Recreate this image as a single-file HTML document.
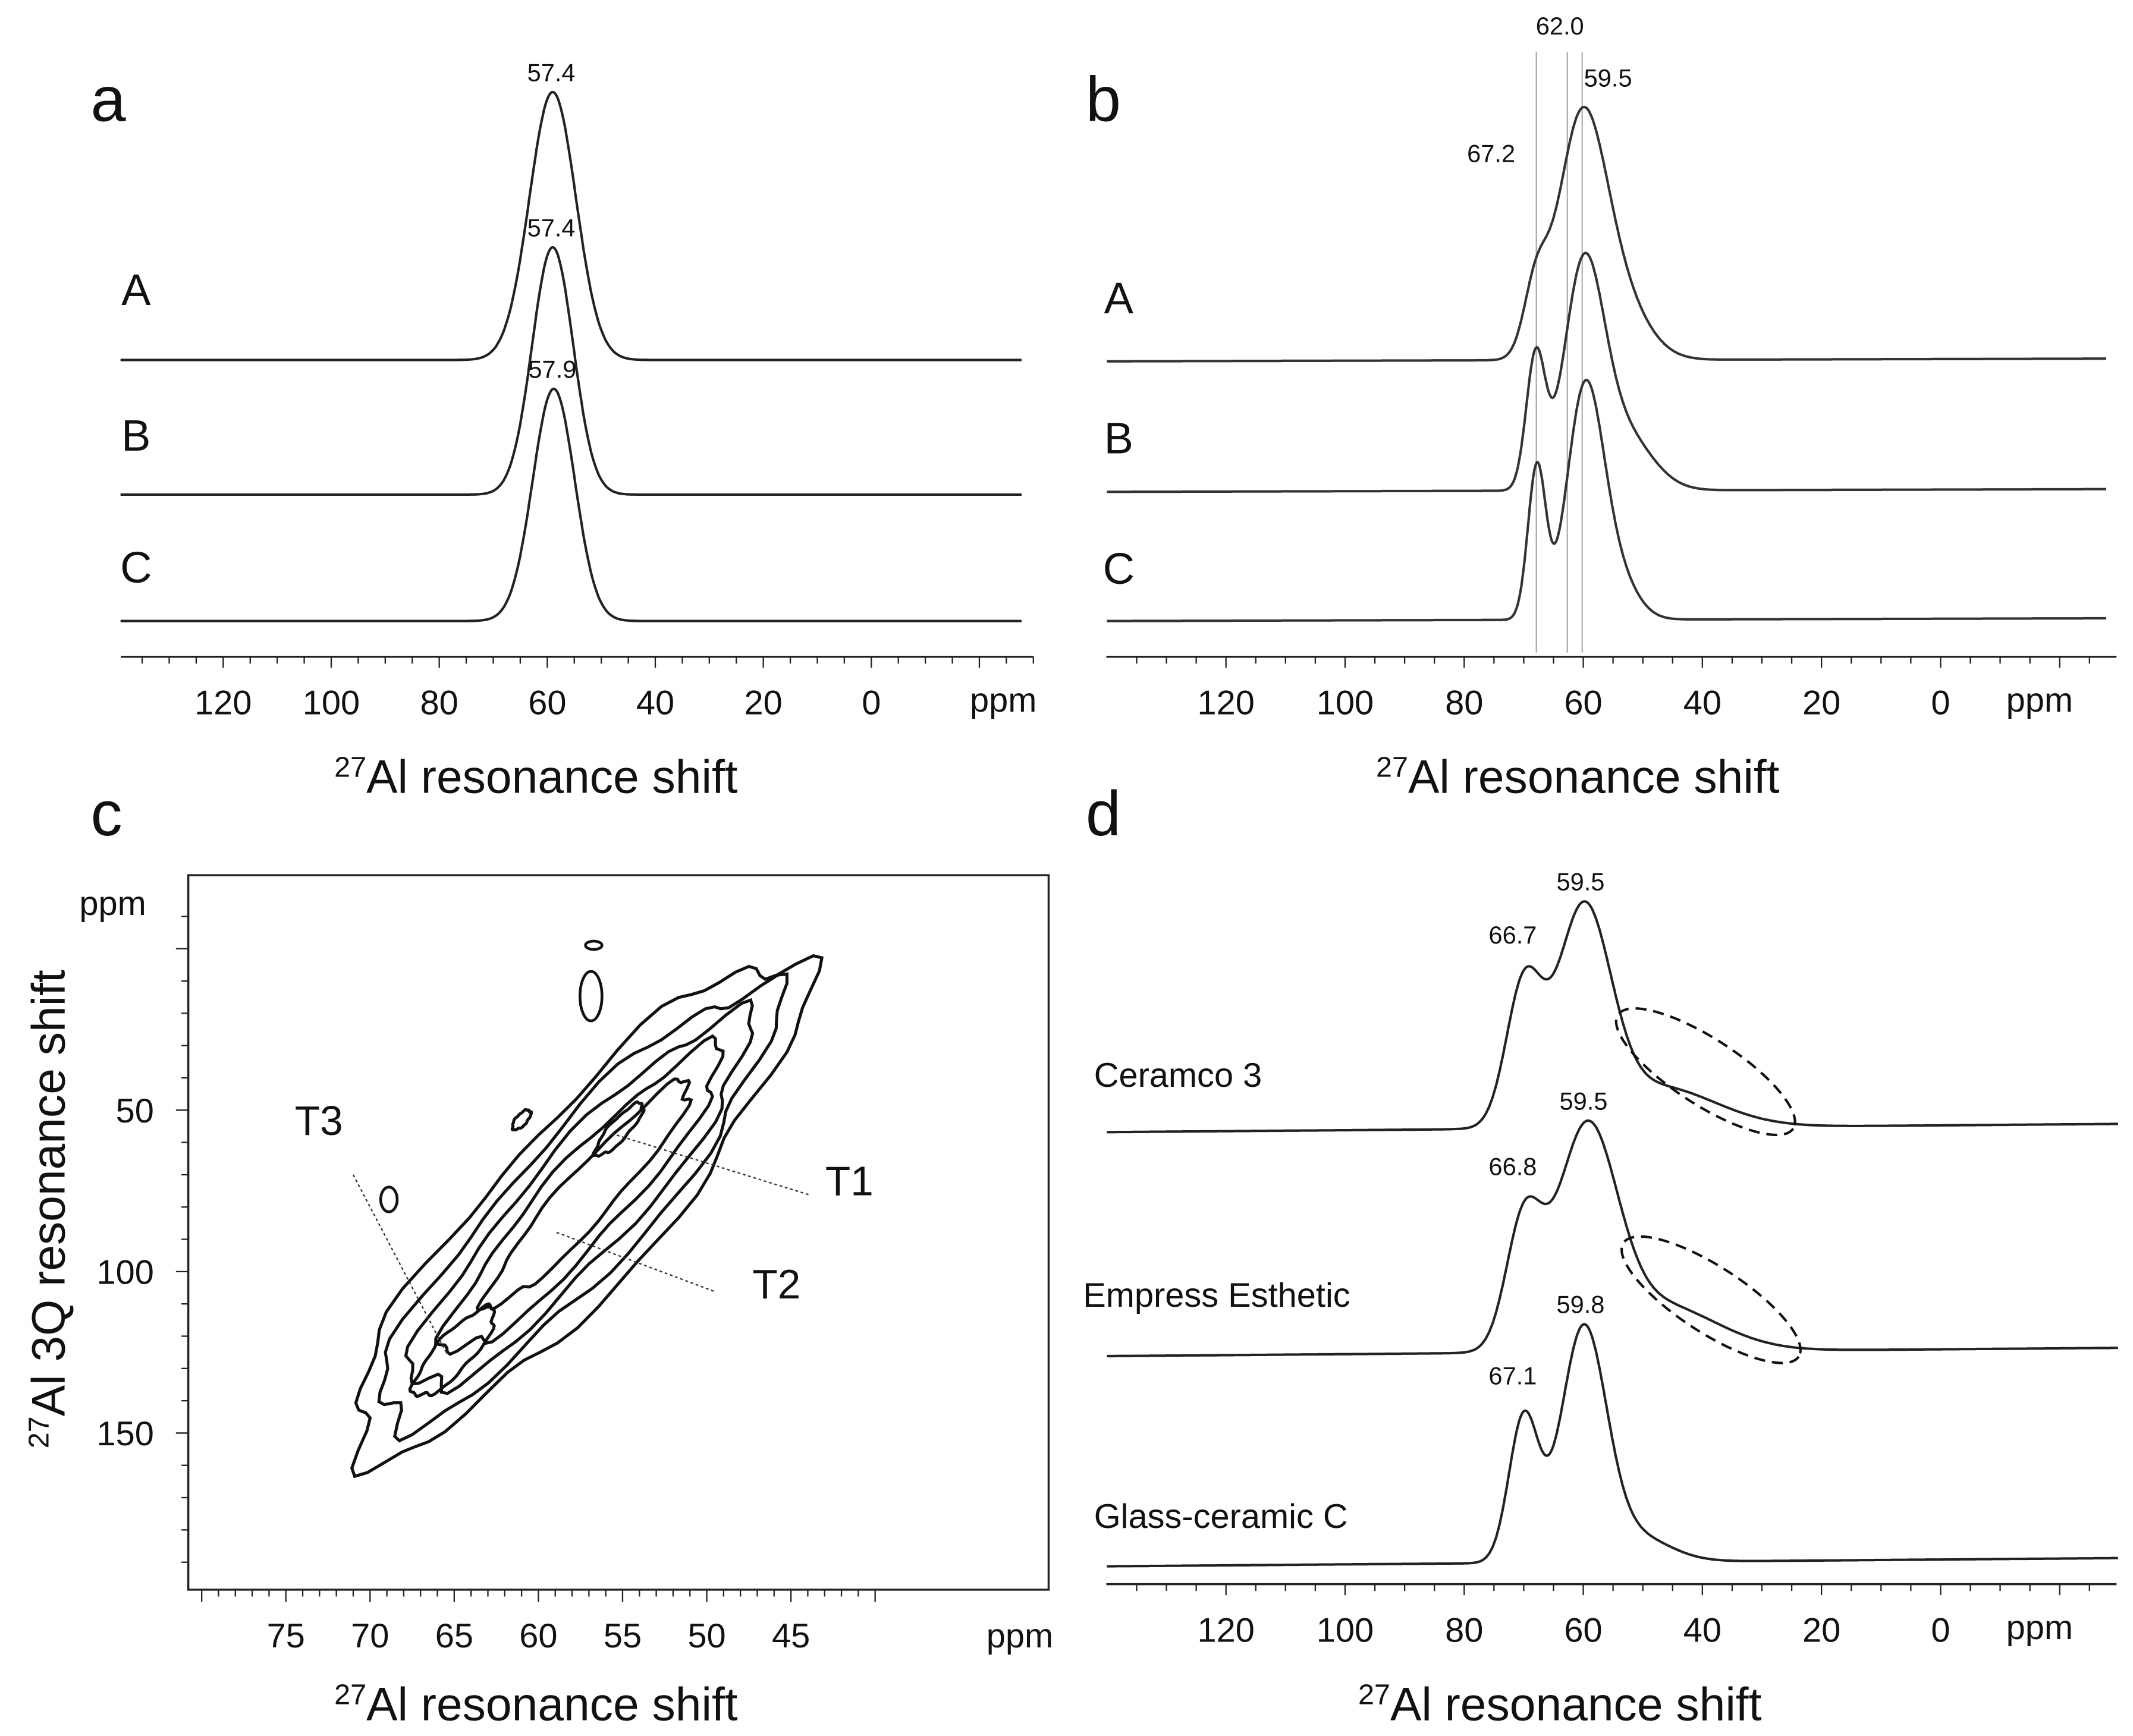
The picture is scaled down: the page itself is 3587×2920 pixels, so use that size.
<!DOCTYPE html>
<html><head><meta charset="utf-8">
<style>
html,body{margin:0;padding:0;background:#fff;}
svg{display:block;font-family:"Liberation Sans","DejaVu Sans",sans-serif;}
</style></head>
<body>
<svg id="fig" width="3587" height="2920" viewBox="0 0 1552 1263.5" preserveAspectRatio="none" xmlns="http://www.w3.org/2000/svg">
<rect width="1552" height="1264" fill="#fff"/>
</svg>
<script>
// ---------- data ----------
const tickPpm1D = [120, 100, 80, 60, 40, 20, 0];
// panel a: [center ppm, height px, sigma ppm]
const aNames = ["A", "B", "C"];
const aPeaks = [[[59,195,4.3]], [[59,180,3.8]], [[58.8,169,3.9]]];
const aLabels = ["57.4", "57.4", "57.9"];
// panel b
const bNames = ["A", "B", "C"];
const bPeaks = [
  [[60.5,155,4],[55,50,5],[68,45,2]],
  [[60,150,3.3],[54,45,5],[68,95,1.6]],
  [[59.8,160,3],[55,35,3.5],[67.8,110,1.5]]
];
const bLines = [67.2, 62.0, 59.5];
// panel d
const dNames = ["Ceramco 3", "Empress Esthetic", "Glass-ceramic C"];
const dPeaks = [
  [[60,150,4.5],[48,30,10],[70,100,3]],
  [[59.5,150,5],[48,35,10],[70,90,3]],
  [[60,165,3.8],[52,20,6],[70,105,2.5]]
];
const dLabelsMain = ["59.5", "59.5", "59.8"];
const dLabelsShoulder = ["66.7", "66.8", "67.1"];
// panel c
const cXTicks = [75, 70, 65, 60, 55, 50, 45];
const cYTicks = [50, 100, 150];
// contour levels: [center F2 ppm, center F1 ppm, half-length px, half-width px]
const cLevels = [[57.7,80,238,58],[57.7,80,210,48],[57.5,79,180,38],[57.3,78,148,28],[57,76,110,18]];
const cInner = [[65,125,42,13],[55.2,56,25,7],[61,53,9,4]];

// ---------- helpers ----------
const svg = document.getElementById('fig');
const NS = 'http://www.w3.org/2000/svg';
function mk(tag, attrs, parent){ const e=document.createElementNS(NS,tag); for(const k in attrs) e.setAttribute(k,attrs[k]); (parent||svg).appendChild(e); return e; }
function txt(x,y,s,size,parent,anchor){ const t=mk('text',{x:x,y:y,'font-size':size,'text-anchor':anchor||'middle',fill:'#111'},parent); t.textContent=s; return t; }
function spec(ppm, peaks){ let v=0; for(const p of peaks) v+=p[1]*Math.exp(-((ppm-p[0])**2)/(2*p[2]*p[2])); return v; }

function axis1D(g, x0ppm, slope, xl, xr, y, titleX, ppmX){
  const X = p => x0ppm - p*slope;
  mk('line',{x1:xl,y1:y,x2:xr,y2:y,stroke:'#222','stroke-width':1.5},g);
  for(let p=135;p>=-30;p-=5){ const x=X(p); if(x<xl||x>xr) continue;
    const tk=mk('line',{x1:x,y1:y,x2:x,y2:y+(p%20===0?8:5),stroke:'#222','stroke-width':1},g);
      }
  for(const p of tickPpm1D){ const t=txt(X(p),y+42,String(p),25,g);
      }
  const u=txt(ppmX,y+40,'ppm',25,g);  
  const t=mk('text',{x:titleX,y:y+99,'font-size':34,'text-anchor':'middle',fill:'#111'},g);
   
  const s=mk('tspan',{'baseline-shift':'super','font-size':21},t); s.textContent='27';
  const r=mk('tspan',{},t); r.textContent='Al resonance shift';
  return X;
}
function drawSpec(g, X, peaks, base, tilt, p0, p1, col){
  let d='';
  for(let p=p0;p>=p1;p-=0.2){ const x=X(p); const y=base + tilt*(p-p0)/(p1-p0) - spec(p,peaks);
    d+=(d?'L':'M')+x.toFixed(1)+' '+y.toFixed(1); }
  return mk('path',{d:d,fill:'none',stroke:col||'#222','stroke-width':1.8},g);
}
function panelLetter(x,y,s){ const t=txt(x,y,s,46,null,'start');   }

// ---------- panel a ----------
const ga=mk('g',{});  
panelLetter(66,88,'a');
const Xa=axis1D(ga,634,3.93,88,752,478,390,730);
const aBase=[262,360,452];
aPeaks.forEach((pk,i)=>{
  const p=drawSpec(ga,Xa,pk,aBase[i],0,139,-28);
   
  const n=txt(99,[222,328,424][i],aNames[i],32,ga);
   
  const top=aBase[i]-spec(pk[0][0],pk);
  const l=txt(Xa(pk[0][0])-1,top-8,aLabels[i],18,ga);  
});

// ---------- panel b ----------
const gb=mk('g',{});  
panelLetter(790,88,'b');
const Xb=axis1D(gb,1412,4.333,805,1540,478,1148,1484);
const bBase=[263,358,452];
bLines.forEach(p=>{ const l=mk('line',{x1:Xb(p)-3,y1:38,x2:Xb(p)-3,y2:475,stroke:'#999','stroke-width':0.8},gb);
    });
bPeaks.forEach((pk,i)=>{
  const p=drawSpec(gb,Xb,pk,bBase[i],-2,140,-28,'#333');
   
  const n=txt(814,[228,330,425][i],bNames[i],32,gb);
   
});
[[1135,25,'62.0'],[1170,63,'59.5'],[1085,118,'67.2']].forEach(a=>{ const t=txt(a[0],a[1],a[2],18,gb);
    });

// ---------- panel d ----------
const gd=mk('g',{});  
panelLetter(790,608,'d');
const Xd=axis1D(gd,1412,4.333,805,1540,1153,1135,1484);
const dBase=[824,987,1140];
dPeaks.forEach((pk,i)=>{
  const p=drawSpec(gd,Xd,pk,dBase[i],-6,140,-30);
   
  const n=txt([796,788,796][i],[791,951,1112][i],dNames[i],25,gd,'start');
   
  const top=dBase[i]-spec(pk[0][0],pk);
  const l=txt(Xd(pk[0][0])-2,top-11,dLabelsMain[i],18,gd);  
  const sh=dBase[i]-spec(pk[2][0],pk);
  const l2=txt(Xd(pk[2][0])-8,sh-22,dLabelsShoulder[i],18,gd);  
});
[[1241,780],[1245,946]].forEach(c=>{ const e=mk('ellipse',{cx:c[0],cy:c[1],rx:76,ry:24,transform:`rotate(33 ${c[0]} ${c[1]})`,fill:'none',stroke:'#111','stroke-width':1.8,'stroke-dasharray':'8 5'},gd);
    });

// ---------- panel c ----------
const gc=mk('g',{});  
panelLetter(66,608,'c');
const Xc=p=>208+(75-p)*12.25, Yc=p=>808+(p-50)*2.35;
const frame=mk('rect',{x:137,y:637,width:626,height:520,fill:'none',stroke:'#222','stroke-width':1.5},gc);
 
for(let p=80;p>=40;p-=1){ const x=Xc(p); if(x<139||x>761) continue;
  mk('line',{x1:x,y1:1157,x2:x,y2:1157+(p%5===0?9:5),stroke:'#222','stroke-width':1},gc); }
for(let p=-10;p<=200;p+=10){ const y=Yc(p); if(y<639||y>1155) continue;
  mk('line',{x1:137,y1:y,x2:137-(p%50===0?9:5),y2:y,stroke:'#222','stroke-width':1},gc); }
cXTicks.forEach(p=>{ const t=txt(Xc(p),1199,String(p),25,gc);   });
cYTicks.forEach(p=>{ const t=txt(112,Yc(p)+9,String(p),25,gc,'end');   });
{ const t=txt(742,1199,'ppm',25,gc);  
  const u=txt(82,666,'ppm',25,gc);   }
{ const t=mk('text',{x:390,y:1252,'font-size':34,'text-anchor':'middle',fill:'#111'},gc);
   
  const s=mk('tspan',{'baseline-shift':'super','font-size':21},t); s.textContent='27';
  const r=mk('tspan',{},t); r.textContent='Al resonance shift';
  const ty=mk('text',{x:0,y:0,'font-size':34,'text-anchor':'middle',fill:'#111',transform:'translate(47 880) rotate(-90)'},gc);
   
  const s2=mk('tspan',{'baseline-shift':'super','font-size':21},ty); s2.textContent='27';
  const r2=mk('tspan',{},ty); r2.textContent='Al 3Q resonance shift'; }
function contour(c,k){
  const cx=Xc(c[0]), cy=Yc(c[1]), a=-48*Math.PI/180; let d='';
  for(let i=0;i<=72;i++){ const t=i/72*2*Math.PI;
    const w=1+0.06*Math.sin(5*t+k)+0.04*Math.sin(11*t+2*k);
    const u=c[2]*Math.cos(t)*w, v=c[3]*Math.sin(t)*w;
    const x=cx+u*Math.cos(a)-v*Math.sin(a), y=cy+u*Math.sin(a)+v*Math.cos(a);
    d+=(i?'L':'M')+x.toFixed(1)+' '+y.toFixed(1); }
  const p=mk('path',{d:d+'Z',fill:'none',stroke:'#111','stroke-width':2.2},gc);
   
}
cLevels.forEach((c,k)=>contour(c,k));
cInner.forEach((c,k)=>contour(c,k+3));
[[283,873,6,9],[432,688,6,3],[430,725,8,18]].forEach(b=>{ const e=mk('ellipse',{cx:b[0],cy:b[1],rx:b[2],ry:b[3],fill:'none',stroke:'#111','stroke-width':2},gc);
    });
[[257,855,325,985,'T3',232,826],[445,825,590,870,'T1',618,870],[405,897,520,940,'T2',565,945]].forEach(l=>{
  const ln=mk('line',{x1:l[0],y1:l[1],x2:l[2],y2:l[3],stroke:'#333','stroke-width':1,'stroke-dasharray':'2 2'},gc);
   
  const t=txt(l[5],l[6],l[4],30,gc);  
});
</script>
</body></html>
